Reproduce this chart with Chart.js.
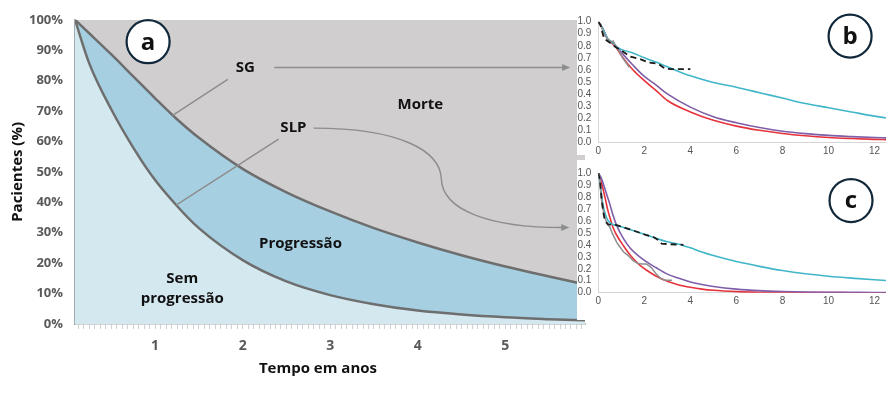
<!DOCTYPE html>
<html>
<head>
<meta charset="utf-8">
<script src="https://cdn.jsdelivr.net/npm/chart.js@4"></script>
<style>
body{margin:0;background:#fff}
#wrap{position:relative;width:886px;height:398px}
canvas{position:absolute}
#main{left:0;top:0}
#painelB{left:577px;top:0}
#painelC{left:577px;top:160px}
</style>
</head>
<body>
<div id="wrap">
<canvas id="main" width="886" height="398"></canvas>
<canvas id="painelB" width="309" height="155"></canvas>
<canvas id="painelC" width="309" height="160"></canvas>
</div>
<script>

// painel a : curvas em %
const anos = [0.085, 0.25, 0.5, 0.75, 1, 1.25, 1.5, 2, 2.5, 3, 3.5, 4, 4.5, 5, 5.5, 5.91]
const sg   = [100, 95.5, 88.6, 81.4, 74.2, 67.3, 61.2, 51, 43.3, 37, 31.5, 26.8, 22.6, 18.9, 15.6, 13.0]
const slp  = [100, 85.5, 70.5, 58.0, 47.3, 38.8, 31.5, 21, 14, 9.5, 6.5, 4.4, 3.1, 2.2, 1.6, 1.2]
const rotulosX = [1, 2, 3, 4, 5]

// painel b
const tB        = [0, 0.2, 0.4, 0.6, 0.8, 1, 1.5, 2, 2.5, 3, 4, 5, 6, 7, 8, 9, 10, 11, 12, 12.5]
const bCiano    = [1.0, 0.94, 0.86, 0.83, 0.79, 0.77, 0.74, 0.70, 0.665, 0.625, 0.55, 0.495, 0.455, 0.41, 0.365, 0.32, 0.285, 0.25, 0.215, 0.20]
const bRoxo     = [1.0, 0.94, 0.86, 0.83, 0.79, 0.745, 0.64, 0.545, 0.475, 0.40, 0.29, 0.21, 0.16, 0.12, 0.09, 0.07, 0.055, 0.045, 0.037, 0.034]
const bVermelho = [1.0, 0.94, 0.86, 0.82, 0.78, 0.72, 0.60, 0.51, 0.43, 0.345, 0.25, 0.18, 0.132, 0.097, 0.071, 0.052, 0.038, 0.029, 0.022, 0.02]
const bKmT      = [0, 0.1, 0.15, 0.25, 0.4, 0.55, 0.75, 1.0, 1.4, 1.8, 2.2, 2.6, 2.9, 3.2, 4.0]
const bKmS      = [1.0, 0.97, 0.93, 0.86, 0.84, 0.82, 0.79, 0.76, 0.71, 0.69, 0.66, 0.65, 0.61, 0.605, 0.605]
const bCinzaT   = [0, 0.1, 0.2, 0.3, 0.45, 0.55, 0.65, 0.75, 0.9, 1.05, 1.2, 1.35]
const bCinzaS   = [1.0, 0.98, 0.92, 0.88, 0.85, 0.83, 0.84, 0.80, 0.76, 0.70, 0.66, 0.62]

// painel c
const tC        = [0, 0.1, 0.2, 0.3, 0.4, 0.5, 0.65, 0.8, 1.1, 1.4, 1.8, 2.2, 2.5, 3, 3.5, 4, 4.5, 5, 6, 7, 8, 9, 10, 11, 12, 12.5]
const cCiano    = [1.0, 0.88, 0.74, 0.66, 0.61, 0.585, 0.57, 0.56, 0.545, 0.525, 0.50, 0.475, 0.455, 0.425, 0.405, 0.375, 0.34, 0.31, 0.26, 0.22, 0.185, 0.158, 0.138, 0.122, 0.108, 0.102]
const cRoxo     = [1.0, 0.97, 0.92, 0.86, 0.80, 0.74, 0.64, 0.56, 0.45, 0.37, 0.30, 0.245, 0.21, 0.155, 0.12, 0.09, 0.068, 0.052, 0.03, 0.017, 0.01, 0.006, 0.004, 0.003, 0.002, 0.002]
const cVermelho = [1.0, 0.95, 0.87, 0.79, 0.70, 0.63, 0.54, 0.48, 0.39, 0.31, 0.23, 0.175, 0.14, 0.095, 0.065, 0.045, 0.03, 0.02, 0.009, 0.004, 0.002, 0.001, 0.001, 0, 0, 0]
const cKmT      = [0, 0.08, 0.14, 0.22, 0.29, 0.43, 0.8, 1.2, 1.52, 2.1, 2.4, 2.6, 2.75, 3.1, 3.7]
const cKmS      = [1.0, 0.93, 0.79, 0.67, 0.60, 0.57, 0.565, 0.54, 0.52, 0.48, 0.465, 0.44, 0.41, 0.405, 0.40]
const cCinzaT   = [0, 0.05, 0.1, 0.15, 0.2, 0.3, 0.4, 0.5, 0.6, 0.7, 0.8, 0.95, 1.1, 1.3, 1.5, 1.7, 1.9, 2.1, 2.3, 2.5, 2.7, 2.9, 3.2]
const cCinzaS   = [1.0, 0.97, 0.85, 0.76, 0.70, 0.62, 0.57, 0.55, 0.50, 0.46, 0.42, 0.38, 0.34, 0.31, 0.27, 0.245, 0.24, 0.24, 0.21, 0.16, 0.12, 0.105, 0.105]

Chart.defaults.font.family = "'Open Sans', sans-serif"
Chart.defaults.animation = false

function pts(ts, vs){
  return ts.map((t,i)=>({x:t, y:vs[i]}))
}

function linha(ctx, a, b){
  ctx.beginPath(); ctx.moveTo(a[0],a[1]); ctx.lineTo(b[0],b[1]); ctx.stroke()
}

function ponta(ctx, p, ang){
  ctx.save()
  ctx.translate(p[0],p[1]); ctx.rotate(ang)
  ctx.beginPath(); ctx.moveTo(0,0); ctx.lineTo(-8,-3.5); ctx.lineTo(-8,3.5); ctx.closePath(); ctx.fill()
  ctx.restore()
}

function circulo(ctx, p, letra){
  ctx.save()
  ctx.beginPath(); ctx.arc(p[0],p[1],21.5,0,Math.PI*2)
  ctx.fillStyle = "#fff"; ctx.fill()
  ctx.lineWidth = 2.2; ctx.strokeStyle = "#10283a"; ctx.stroke()
  ctx.fillStyle = "#111"; ctx.font = "bold 24px 'Open Sans'"
  ctx.textAlign = "center"; ctx.textBaseline = "middle"
  ctx.fillText(letra, p[0], p[1]+1)
  ctx.restore()
}

/* anotacoes do painel a */
const anotacoesA = {
  id:"anotacoesA",
  afterDraw(chart){
    const {ctx, scales:{x,y}, chartArea} = chart
    const P = (t,v)=>[x.getPixelForValue(t), y.getPixelForValue(v)]
    ctx.save()
    ctx.strokeStyle = "#8d8d8d"; ctx.fillStyle = "#8d8d8d"; ctx.lineWidth = 1.4

    // SG
    linha(ctx, P(1.83,80.4), P(1.2,68.6))
    linha(ctx, P(2.36,84.3), P(5.66,84.3))
    ponta(ctx, P(5.74,84.3), 0)

    // SLP
    linha(ctx, P(2.41,60.8), P(1.24,39.1))
    const a0 = P(2.81,64.4), a1 = P(3.8,64.4), a2 = P(4.257,56.9), a3 = P(4.269,47.7)
    const a4 = P(4.28,37.3), a5 = P(4.83,31.7), a6 = P(5.65,31.7)
    ctx.beginPath(); ctx.moveTo(a0[0],a0[1])
    ctx.bezierCurveTo(a1[0],a1[1],a2[0],a2[1],a3[0],a3[1])
    ctx.bezierCurveTo(a4[0],a4[1],a5[0],a5[1],a6[0],a6[1])
    ctx.stroke()
    ponta(ctx, P(5.73,31.7), 0)

    ctx.fillStyle = "#111"; ctx.font = "bold 15px 'Open Sans'"
    ctx.textAlign = "center"; ctx.textBaseline = "middle"
    let p = P(2.03,84.3); ctx.fillText("SG", p[0], p[1])
    p = P(2.58,64.4); ctx.fillText("SLP", p[0], p[1])
    p = P(4.03,72.2); ctx.fillText("Morte", p[0], p[1])
    p = P(2.66,26.5); ctx.fillText("Progressão", p[0], p[1])
    p = P(1.31,15.0); ctx.fillText("Sem", p[0], p[1])
    p = P(1.31,8.2); ctx.fillText("progressão", p[0], p[1])
    ctx.fillText("Tempo em anos", x.getPixelForValue(2.86), chartArea.bottom + 45)
    ctx.restore()

    circulo(ctx, P(0.92,92.8), "a")
  }
}

new Chart(document.getElementById("main"),{
  type:"line",
  data:{
    datasets:[
      {label:"SLP", data:pts(anos,slp), borderColor:"#6e6e6e", borderWidth:2.5,
       backgroundColor:"#d4e8f0", fill:"origin", pointRadius:0, cubicInterpolationMode:"monotone"},
      {label:"SG", data:pts(anos,sg), borderColor:"#6e6e6e", borderWidth:2.5,
       backgroundColor:"#a6d0e2", fill:"-1", pointRadius:0, cubicInterpolationMode:"monotone"},
      {label:"Morte", data:pts(anos,sg), borderColor:"rgba(0,0,0,0)", borderWidth:0,
       backgroundColor:"#d0cecf", fill:"end", pointRadius:0, cubicInterpolationMode:"monotone"}
    ]
  },
  options:{
    responsive:false,
    events:[],
    layout:{padding:{top:18, right:301, left:0, bottom:0}},
    plugins:{legend:{display:false}, tooltip:{enabled:false}},
    scales:{
      x:{
        type:"linear", min:0.085, max:5.91,
        ticks:{
          stepSize:0.0625, includeBounds:false, autoSkip:false, maxRotation:0, minRotation:0,
          padding:9, color:"#595959", font:{size:14, weight:"bold"},
          callback:(v)=>{
            const r = Math.round(v)
            return (Math.abs(v-r) < 1e-6 && rotulosX.includes(r)) ? String(r) : ""
          }
        },
        grid:{display:true, drawOnChartArea:false, drawTicks:true, tickLength:5, color:"#cdd2d5", lineWidth:1},
        border:{color:"#a3acb0", width:1.5},
        afterFit:(s)=>{ s.height = 74 }
      },
      y:{
        min:0, max:100,
        ticks:{stepSize:10, padding:12, color:"#595959", font:{size:13, weight:"bold"}, callback:(v)=>v+"%"},
        grid:{display:false, drawTicks:false},
        border:{color:"#a3acb0", width:1.5},
        title:{display:true, text:"Pacientes (%)", color:"#111", font:{size:15, weight:"bold"}, padding:{top:9}},
        afterFit:(s)=>{ s.width = 75 }
      }
    }
  },
  plugins:[anotacoesA]
})

/* paineis b e c */

function rotuloPainel(letra, t, v){
  return {
    id:"rotulo"+letra,
    afterDraw(chart){
      const {x,y} = chart.scales
      circulo(chart.ctx, [x.getPixelForValue(t), y.getPixelForValue(v)], letra)
    }
  }
}

function opcoesPainel(topo, alturaX){
  return {
    responsive:false,
    events:[],
    layout:{padding:{top:topo, right:0, left:0, bottom:0}},
    plugins:{legend:{display:false}, tooltip:{enabled:false}},
    scales:{
      x:{
        type:"linear", min:0, max:12.5,
        ticks:{stepSize:2, includeBounds:false, autoSkip:false, maxRotation:0, padding:3, color:"#555", font:{size:10, family:"'Liberation Sans'"}},
        grid:{display:false, drawTicks:false},
        border:{color:"#d6d6d6", width:1},
        afterFit:(s)=>{ s.height = alturaX }
      },
      y:{
        min:0, max:1,
        ticks:{stepSize:0.1, autoSkip:false, padding:7, color:"#555", font:{size:10, family:"'Liberation Sans'"}, callback:(v)=>v.toFixed(1)},
        grid:{display:false, drawTicks:false},
        border:{color:"#d6d6d6", width:1},
        afterFit:(s)=>{ s.width = 21.3 }
      }
    }
  }
}

function seriesPainel(t, ciano, roxo, vermelho, kmT, kmS, cinzaT, cinzaS){
  return [
    {label:"KM tracejado", data:pts(kmT,kmS), borderColor:"#1a1a1a", borderWidth:1.8, borderDash:[6,4], pointRadius:0, tension:0},
    {label:"KM cinza", data:pts(cinzaT,cinzaS), borderColor:"#8f8f8f", borderWidth:1.5, pointRadius:0, tension:0},
    {label:"ciano", data:pts(t,ciano), borderColor:"#41b6c8", borderWidth:1.6, pointRadius:0, cubicInterpolationMode:"monotone"},
    {label:"roxo", data:pts(t,roxo), borderColor:"#7e5ea9", borderWidth:1.6, pointRadius:0, cubicInterpolationMode:"monotone"},
    {label:"vermelho", data:pts(t,vermelho), borderColor:"#e5323b", borderWidth:1.6, pointRadius:0, cubicInterpolationMode:"monotone"}
  ]
}

const fundoBranco = {
  id:"fundoBranco",
  beforeDraw(chart){
    const ctx = chart.ctx
    ctx.save(); ctx.fillStyle = "#fff"; ctx.fillRect(0,0,chart.width,chart.height); ctx.restore()
  }
}

new Chart(document.getElementById("painelB"),{
  type:"line",
  data:{datasets:seriesPainel(tB,bCiano,bRoxo,bVermelho,bKmT,bKmS,bCinzaT,bCinzaS)},
  options:opcoesPainel(21.7, 12.3),
  plugins:[fundoBranco, rotuloPainel("b",10.94,0.88)]
})

new Chart(document.getElementById("painelC"),{
  type:"line",
  data:{datasets:seriesPainel(tC,cCiano,cRoxo,cVermelho,cKmT,cKmS,cCinzaT,cCinzaS)},
  options:opcoesPainel(12.7, 27.3),
  plugins:[fundoBranco, rotuloPainel("c",10.98,0.77)]
})

</script>
</body>
</html>
